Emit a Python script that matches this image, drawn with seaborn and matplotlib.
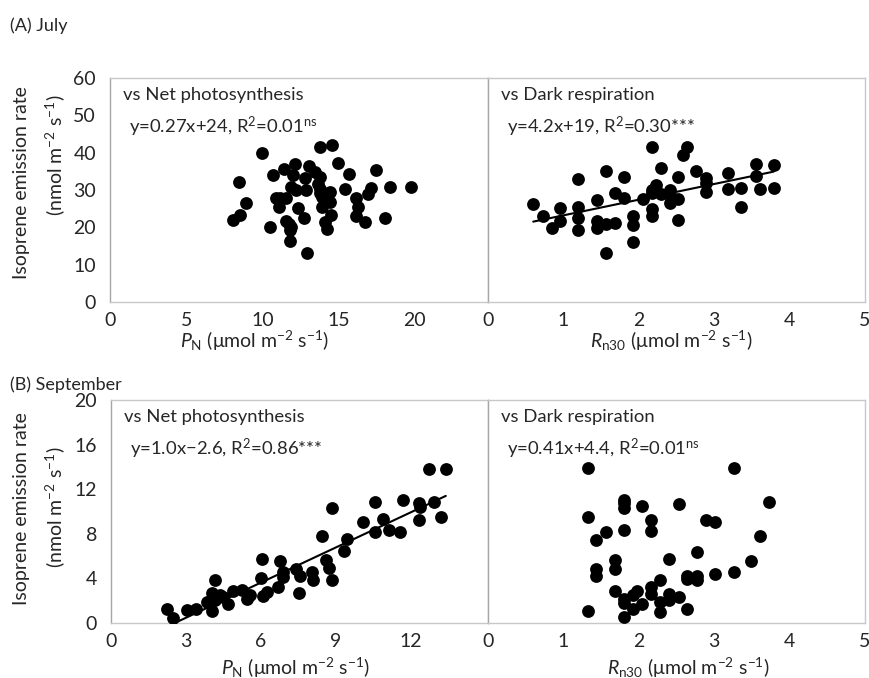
import matplotlib
matplotlib.use("Agg")
import matplotlib.pyplot as plt
import seaborn as sns
import numpy as np

# (A) July: isoprene emission vs net photosynthesis
july_pn = [9.99, 8.48, 8.92, 8.52, 8.04, 10.49, 10.69, 11.39, 12.13, 11.98,
           10.89, 11.15, 11.56, 11.08, 11.85, 12.2, 12.33, 11.52, 11.76, 11.87,
           11.8, 11.78, 12.81, 12.85, 12.74, 12.92, 13.05, 13.44, 13.81, 13.64,
           13.77, 14.58, 13.81, 13.77, 13.92, 13.9, 14.43, 14.43, 14.49, 14.14,
           14.25, 14.97, 15.7, 15.41, 16.13, 16.28, 16.15, 16.72, 16.96, 17.1,
           17.46, 18.06, 18.34, 19.74]
july_iso_pn = [39.8, 32.2, 26.6, 23.3, 21.9, 20.0, 33.9, 35.5, 36.9, 33.9,
               27.9, 27.8, 27.9, 25.5, 30.8, 30.0, 25.2, 21.7, 21.0, 20.1,
               19.4, 16.2, 33.3, 30.0, 22.6, 13.0, 36.3, 34.9, 33.4, 31.5,
               41.6, 42.0, 30.2, 29.1, 28.2, 25.5, 29.4, 26.9, 23.3, 21.3,
               19.6, 37.2, 34.2, 30.3, 27.9, 25.5, 23.1, 21.3, 28.9, 30.6,
               35.4, 22.4, 30.9, 30.7]

# (A) July: isoprene emission vs dark respiration
july_rn = [0.60, 0.73, 0.85, 0.96, 0.96, 1.2, 1.2, 1.2, 1.2, 1.45,
           1.45, 1.45, 1.56, 1.56, 1.56, 1.68, 1.68, 1.80, 1.80, 1.93,
           1.93, 1.93, 2.05, 2.17, 2.17, 2.17, 2.17, 2.17, 2.23, 2.29,
           2.29, 2.41, 2.41, 2.41, 2.52, 2.52, 2.52, 2.58, 2.64, 2.76,
           2.89, 2.89, 2.89, 3.19, 3.19, 3.36, 3.36, 3.55, 3.55, 3.61,
           3.79, 3.79]
july_iso_rn = [26.2, 23.0, 19.9, 25.2, 21.7, 33.0, 25.5, 22.4, 19.2, 27.3,
               21.7, 19.7, 35.1, 21.0, 13.0, 29.1, 21.2, 33.6, 27.9, 23.1,
               20.6, 16.0, 27.5, 41.6, 30.0, 29.3, 24.9, 23.1, 31.3, 35.8,
               28.9, 30.0, 28.6, 26.6, 33.6, 27.5, 21.9, 39.4, 41.4, 35.2,
               33.1, 31.8, 29.5, 34.5, 30.3, 30.6, 25.5, 36.9, 33.8, 30.3,
               36.6, 30.5]

# (B) September: isoprene emission vs net photosynthesis
sep_pn = [2.24, 2.48, 3.05, 3.41, 3.84, 4.03, 4.03, 4.15, 4.15, 4.35,
          4.49, 4.67, 4.87, 5.25, 5.44, 5.58, 6.05, 5.99, 6.09, 6.25,
          6.7, 6.76, 6.9, 6.9, 7.42, 7.54, 7.58, 8.06, 8.1, 8.46,
          8.6, 8.73, 8.85, 8.87, 9.35, 9.47, 10.1, 10.59, 10.59, 10.9,
          11.12, 11.58, 11.7, 12.32, 12.36, 12.32, 12.92, 12.72, 13.41, 13.2]
sep_iso_pn = [1.28, 0.45, 1.13, 1.28, 1.88, 2.69, 1.04, 3.88, 2.09, 2.54,
              2.33, 1.73, 2.90, 2.93, 2.15, 2.48, 5.73, 4.03, 2.45, 2.81,
              3.19, 5.58, 4.54, 4.12, 4.84, 2.69, 4.18, 4.54, 3.88, 7.76,
              5.67, 4.93, 3.88, 10.3, 6.42, 7.52, 9.04, 10.84, 8.18, 9.31,
              8.36, 8.12, 10.99, 10.75, 10.39, 9.25, 10.84, 13.85, 13.85, 9.55]

# (B) September: isoprene emission vs dark respiration
sep_rn = [1.32, 1.32, 1.32, 1.43, 1.43, 1.43, 1.56, 1.68, 1.68, 1.68,
          1.80, 1.80, 1.80, 1.80, 1.80, 1.80, 1.80, 1.92, 1.92, 1.98,
          2.04, 2.04, 2.16, 2.16, 2.16, 2.16, 2.28, 2.28, 2.28, 2.40,
          2.40, 2.40, 2.53, 2.53, 2.64, 2.64, 2.64, 2.77, 2.77, 2.77,
          2.89, 3.01, 3.01, 3.26, 3.26, 3.49, 3.61, 3.73]
sep_iso_rn = [13.88, 9.55, 1.10, 7.46, 4.84, 4.18, 8.12, 5.61, 4.84, 2.84,
              11.04, 10.75, 10.30, 8.36, 2.18, 1.79, 0.51, 2.54, 1.28, 2.84,
              10.51, 1.70, 9.25, 8.21, 3.19, 2.63, 3.88, 1.85, 1.01, 5.76,
              2.60, 2.09, 10.69, 2.33, 1.28, 4.18, 3.97, 6.33, 4.18, 3.82,
              9.25, 9.04, 4.39, 13.88, 4.54, 5.52, 7.76, 10.84]

# fitted trend lines (slope, intercept), only for the significant panels
fit_july_rn = (4.2, 19.0)
fit_sep_pn = (1.05, -2.68)

panel_titles = ["vs Net photosynthesis", "vs Dark respiration"]
eq_july = ["y=0.27x+24, R$^2$=0.01$^{\\rm ns}$", "y=4.2x+19, R$^2$=0.30***"]
eq_sep = ["y=1.0x\u22122.6, R$^2$=0.86***", "y=0.41x+4.4, R$^2$=0.01$^{\\rm ns}$"]

sns.set_theme(style="white")
plt.rcParams["font.family"] = ["Lato", "DejaVu Sans"]
plt.rcParams["mathtext.fontset"] = "custom"
plt.rcParams["mathtext.rm"] = "Lato"
plt.rcParams["mathtext.it"] = "Lato:italic"
plt.rcParams["mathtext.bf"] = "Lato:bold"

TXT = "#262626"
FRAME = "#c8c8c8"
W, H = 870, 678

fig = plt.figure(figsize=(8.7, 6.78), dpi=100)

# axes positions in figure fractions
axA1 = fig.add_axes([0.1264, 0.5546, 0.4345, 0.3304])
axA2 = fig.add_axes([0.5609, 0.5546, 0.4333, 0.3304])
axB1 = fig.add_axes([0.1276, 0.0811, 0.4333, 0.3289])
axB2 = fig.add_axes([0.5609, 0.0811, 0.4333, 0.3289])


def style_axes(ax, show_ylabels):
    for s in ax.spines.values():
        s.set_color(FRAME)
        s.set_linewidth(1.0)
    ax.spines["left"].set_color("#a6a6a6")
    ax.tick_params(axis="both", which="both", direction="out", length=4,
                   width=1, color=FRAME, labelsize=14, labelcolor=TXT, pad=3)
    ax.tick_params(axis="y", pad=6)
    ax.set_xlabel("")
    ax.set_ylabel("")
    if not show_ylabels:
        ax.tick_params(axis="y", labelleft=False)


def draw(ax, x, y, fit=None):
    sns.scatterplot(x=x, y=y, ax=ax, color="black", s=85, edgecolor="black",
                    linewidth=0, zorder=3)
    if fit is not None:
        xs = np.array([min(x), max(x)])
        sns.lineplot(x=xs, y=fit[0] * xs + fit[1], ax=ax, color="black",
                     linewidth=1.5, zorder=4)


draw(axA1, july_pn, july_iso_pn)
axA1.set_xlim(0, 24.8)
axA1.set_xticks([0, 5, 10, 15, 20])
axA1.set_ylim(0, 60)
axA1.set_yticks(range(0, 61, 10))
style_axes(axA1, True)

draw(axA2, july_rn, july_iso_rn, fit_july_rn)
axA2.set_xlim(0, 5)
axA2.set_xticks(range(0, 6))
axA2.set_ylim(0, 60)
axA2.set_yticks(range(0, 61, 10))
style_axes(axA2, False)

draw(axB1, sep_pn, sep_iso_pn, fit_sep_pn)
axB1.set_xlim(0, 15.1)
axB1.set_xticks([0, 3, 6, 9, 12])
axB1.set_ylim(0, 20)
axB1.set_yticks(range(0, 21, 4))
style_axes(axB1, True)

draw(axB2, sep_rn, sep_iso_rn)
axB2.set_xlim(0, 5)
axB2.set_xticks(range(0, 6))
axB2.set_ylim(0, 20)
axB2.set_yticks(range(0, 21, 4))
style_axes(axB2, False)

# panel annotations
for axes, eqs in [((axA1, axA2), eq_july), ((axB1, axB2), eq_sep)]:
    for ax, title, eq in zip(axes, panel_titles, eqs):
        ax.text(0.035, 0.96, title, transform=ax.transAxes, fontsize=13.3,
                color=TXT, va="top", ha="left")
        ax.text(0.05, 0.835, eq, transform=ax.transAxes, fontsize=13.3,
                color=TXT, va="top", ha="left")

# section labels
fig.text(10 / W, 1 - 26 / H, "(A) July", fontsize=13, color=TXT, va="center")
fig.text(10 / W, 1 - 385 / H, "(B) September", fontsize=13, color=TXT,
         va="center")

# y labels (two lines each)
for y1, y2 in ((183, 155), (509, 507)):
    fig.text(22 / W, 1 - y1 / H, "Isoprene emission rate", rotation=90,
             fontsize=14, color=TXT, ha="center", va="center")
    fig.text(55 / W, 1 - y2 / H, "(nmol m$^{-2}$ s$^{-1}$)", rotation=90,
             fontsize=14, color=TXT, ha="center", va="center")

# x labels
pn_label = "$P_{\\rm N}$ (\u03bcmol m$^{-2}$ s$^{-1}$)"
rn_label = "$R_{\\rm n30}$ (\u03bcmol m$^{-2}$ s$^{-1}$)"
for xc, yc, lab in ((255, 341, pn_label), (671, 341, rn_label),
                    (296, 668, pn_label), (688, 668, rn_label)):
    fig.text(xc / W, 1 - yc / H, lab, fontsize=14, color=TXT,
             ha="center", va="center")

fig.savefig("out.png", dpi=100)
